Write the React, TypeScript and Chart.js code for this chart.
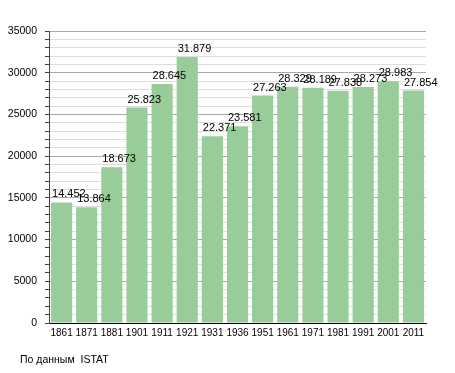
import React, { useEffect, useRef } from "react";
import { Chart, registerables } from "chart.js";

Chart.register(...registerables);

const years = ["1861", "1871", "1881", "1901", "1911", "1921", "1931", "1936", "1951", "1961", "1971", "1981", "1991", "2001", "2011"];
const population = [14452, 13864, 18673, 25823, 28645, 31879, 22371, 23581, 27263, 28329, 28189, 27838, 28273, 28983, 27854];
const sourceNote = "По данным  ISTAT";

const FONT = "'Liberation Sans', Arial, sans-serif";

function fmt(v: number): string {
  return String(v).replace(/\B(?=(\d{3})+(?!\d))/g, ".");
}

const labelsPlugin = {
  id: "valueLabels",
  afterDatasetsDraw(chart: any) {
    const ctx = chart.ctx;
    const meta = chart.getDatasetMeta(0);
    ctx.save();
    ctx.font = `11px ${FONT}`;
    ctx.fillStyle = "#000";
    ctx.textAlign = "left";
    ctx.textBaseline = "alphabetic";
    meta.data.forEach((bar: any, i: number) => {
      ctx.fillText(fmt(population[i]), bar.x - bar.width / 2 + 1, bar.y - 5);
    });
    ctx.restore();
  },
  afterDraw(chart: any) {
    const ctx = chart.ctx;
    ctx.save();
    ctx.font = `10.5px ${FONT}`;
    ctx.fillStyle = "#000";
    ctx.textAlign = "left";
    ctx.textBaseline = "middle";
    ctx.fillText(sourceNote, 20, 360);
    ctx.restore();
  },
};

export default function App() {
  const ref = useRef<HTMLCanvasElement | null>(null);
  useEffect(() => {
    if (!ref.current) return;
    const chart = new Chart(ref.current, {
      type: "bar",
      data: {
        labels: years,
        datasets: [
          {
            data: population,
            backgroundColor: "#98cc98",
            borderWidth: 0,
            barPercentage: 0.84,
            categoryPercentage: 1,
          },
        ],
      },
      options: {
        responsive: false,
        animation: false,
        layout: { padding: { top: 31, right: 29, left: 0, bottom: 0 } },
        plugins: { legend: { display: false }, tooltip: { enabled: false }, title: { display: false } },
        scales: {
          x: {
            grid: { display: false, drawTicks: false },
            border: { display: true, color: "#000", width: 1 },
            ticks: { color: "#000", font: { family: FONT, size: 10 }, padding: 4, maxRotation: 0, autoSkip: false },
            afterFit: (s: any) => { s.height = 50; },
          },
          y: {
            min: 0,
            max: 35000,
            grid: {
              color: (c: any) => (c.tick && c.tick.value % 5000 === 0 ? "#a8a8a8" : "#dedede"),
              tickColor: "#444",
              tickLength: 4,
              drawTicks: true,
            },
            border: { display: true, color: "#444", width: 1 },
            ticks: {
              stepSize: 1000,
              autoSkip: false,
              padding: 8,
              color: "#000",
              font: { family: FONT, size: 10.5 },
              callback: (v: any) => (Number(v) % 5000 === 0 ? String(v) : ""),
            },
            afterFit: (s: any) => { s.width = 49; },
          },
        },
      },
      plugins: [labelsPlugin],
    });
    return () => chart.destroy();
  }, []);
  return (
    <div style={{ position: "absolute", left: 0, top: 0, width: 455, height: 373, background: "#fff" }}>
      <canvas ref={ref} width={455} height={373} />
    </div>
  );
}
